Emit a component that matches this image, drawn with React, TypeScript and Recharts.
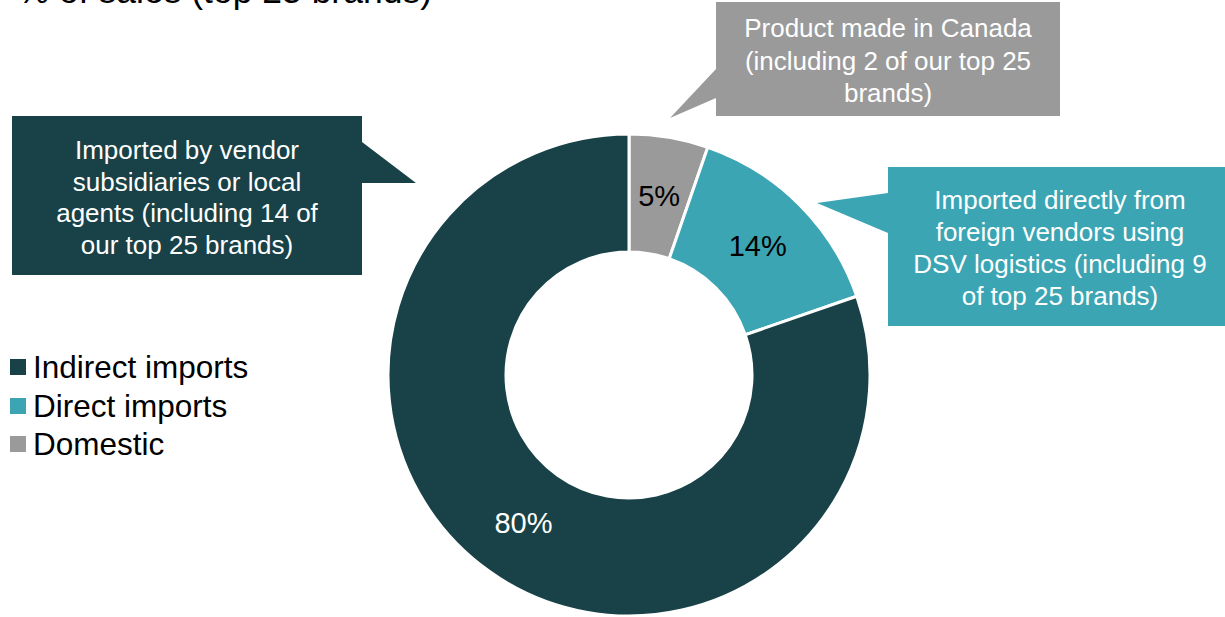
import React from "react";
import { PieChart, Pie, Cell, Legend, Customized } from "recharts";

const categories = ["Domestic", "Direct imports", "Indirect imports"];
const shares = [5.3, 14.4, 80.3];
const colors = ["#9A9A9A", "#3BA5B4", "#184247"];
const labelColors = ["#000000", "#000000", "#FFFFFF"];
const legendOrder = ["Indirect imports", "Direct imports", "Domestic"];
const titleText = "% of sales (top 25 brands)";

const calloutGray = ["Product made in Canada", "(including 2 of our top 25", "brands)"];
const calloutDark = ["Imported by vendor", "subsidiaries or local", "agents (including 14 of", "our top 25 brands)"];
const calloutTeal = ["Imported directly from", "foreign vendors using", "DSV logistics (including 9", "of top 25 brands)"];

const data = categories.map((name, i) => ({ name, value: shares[i] }));

const FONT = "'Liberation Sans', Arial, sans-serif";
const RAD = Math.PI / 180;

const renderLabel = (props: any) => {
  const { cx, cy, midAngle, innerRadius, outerRadius, percent, index } = props;
  const r = (innerRadius + outerRadius) / 2;
  const x = cx + r * Math.cos(-midAngle * RAD);
  const y = cy + r * Math.sin(-midAngle * RAD);
  return (
    <text
      x={x}
      y={y}
      fill={labelColors[index]}
      textAnchor="middle"
      dominantBaseline="central"
      fontSize={29}
      fontFamily={FONT}
    >
      {Math.round(percent * 100) + "%"}
    </text>
  );
};

const Lines = ({ lines, cx, y0, step }: { lines: string[]; cx: number; y0: number; step: number }) => (
  <g>
    {lines.map((t, i) => (
      <text
        key={i}
        x={cx}
        y={y0 + i * step}
        textAnchor="middle"
        dominantBaseline="central"
        fill="#FFFFFF"
        fontSize={26}
        fontFamily={FONT}
      >
        {t}
      </text>
    ))}
  </g>
);

const Callouts = () => (
  <g>
    <text x={432} y={3} textAnchor="end" fontSize={35.5} fontFamily={FONT} fill="#000">
      {titleText}
    </text>
    <path d="M716,2 H1060 V116 H716 V98 L670,118 L716,69 Z" fill={colors[0]} />
    <Lines lines={calloutGray} cx={888} y0={28} step={32.5} />
    <path d="M12,116 H362 V142 L416,183 H362 V275 H12 Z" fill={colors[2]} />
    <Lines lines={calloutDark} cx={187} y0={150} step={31.7} />
    <path d="M888,167 H1225 V326 H888 V233 L817,203 L888,193 Z" fill={colors[1]} />
    <Lines lines={calloutTeal} cx={1060} y0={200} step={32} />
  </g>
);

const renderLegend = () => (
  <div style={{ fontFamily: FONT }}>
    {legendOrder.map((name) => {
      const i = categories.indexOf(name);
      return (
        <div key={name} style={{ display: "flex", alignItems: "center", height: 38.5 }}>
          <span style={{ display: "inline-block", width: 16, height: 16, background: colors[i], marginRight: 7 }} />
          <span style={{ fontSize: 31.5, color: "#000", lineHeight: "38px" }}>{name}</span>
        </div>
      );
    })}
  </div>
);

export default function App() {
  return (
    <div style={{ position: "absolute", left: 0, top: 0, width: 1225, height: 617, background: "#fff" }}>
      <PieChart width={1225} height={617} margin={{ top: 0, right: 0, bottom: 0, left: 0 }}>
        <Customized component={Callouts} />
        <Pie
          data={data}
          dataKey="value"
          nameKey="name"
          cx={629}
          cy={375}
          innerRadius={123}
          outerRadius={241}
          startAngle={90}
          endAngle={-270}
          stroke="#FFFFFF"
          strokeWidth={3}
          label={renderLabel}
          labelLine={false}
          isAnimationActive={false}
        >
          {data.map((d, i) => (
            <Cell key={d.name} fill={colors[i]} />
          ))}
        </Pie>
        <Legend
          content={renderLegend}
          wrapperStyle={{ position: "absolute", left: 10, top: 348, width: 300 }}
        />
      </PieChart>
    </div>
  );
}
